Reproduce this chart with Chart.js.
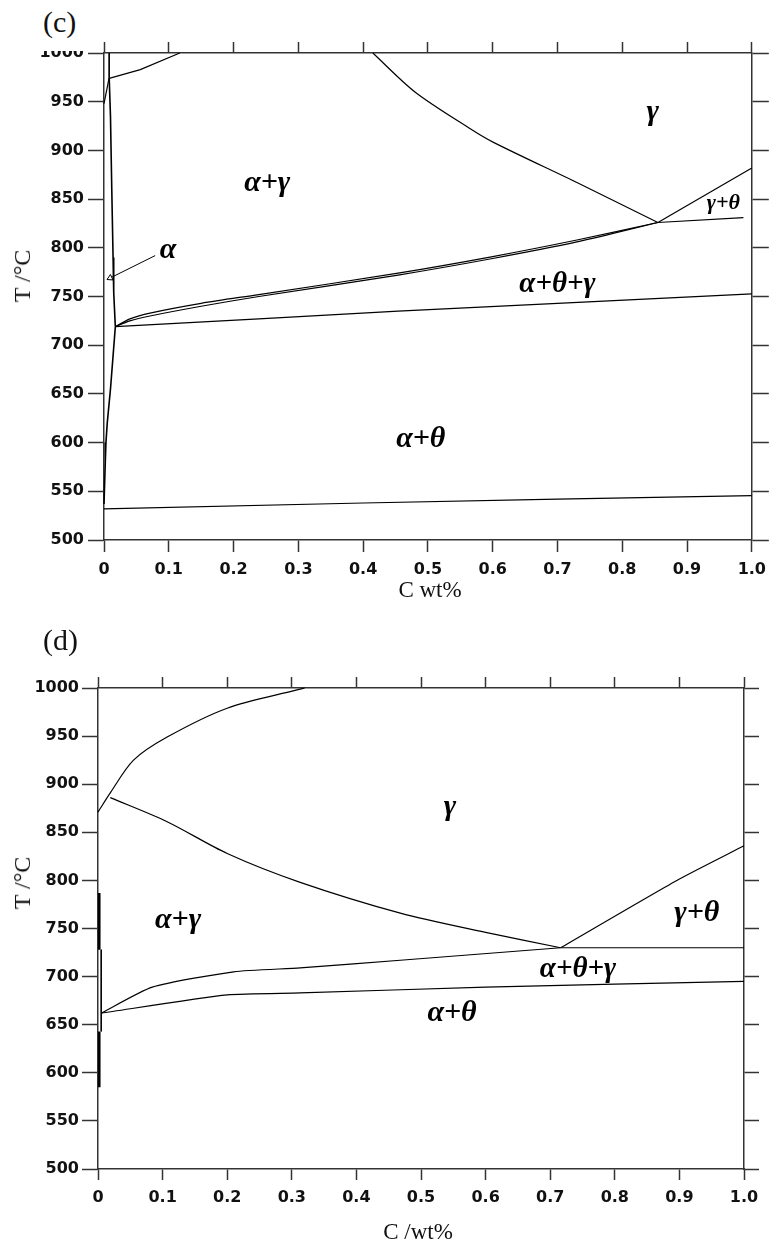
<!DOCTYPE html>
<html>
<head>
<meta charset="utf-8">
<script src="https://cdn.jsdelivr.net/npm/chart.js@4.4.0/dist/chart.umd.min.js"></script>
<style>
  body { margin: 0; background: #fff; }
  #page { position: relative; width: 774px; height: 1249px; overflow: hidden; background: #fff; }
  .box { position: absolute; left: 0; width: 774px; }
  .t { position: absolute; font-family: "Liberation Serif", "Times New Roman", serif; color: #111; white-space: nowrap; line-height: 1; }
  .rot { transform: translate(-50%, -50%) rotate(-90deg); }
  .mid { transform: translate(-50%, -50%); }
</style>
</head>
<body>
<div id="page">
  <div class="box" style="top:0;height:600px"><canvas id="chartC"></canvas></div>
  <div class="box" style="top:620px;height:629px"><canvas id="chartD"></canvas></div>
  <!-- the top of the "1000" label is cut off in the original figure -->
  <div style="position:absolute;left:30px;top:0;width:70px;height:51px;background:#fff"></div>
  <div class="t" style="left:43px;top:7px;font-size:30px">(c)</div>
  <div class="t mid" style="left:430px;top:589px;font-size:23px">C wt%</div>
  <div class="t rot" style="left:22px;top:276px;font-size:24px">T /°C</div>
  <div class="t" style="left:43px;top:625px;font-size:30px">(d)</div>
  <div class="t mid" style="left:418px;top:1231px;font-size:23px">C /wt%</div>
  <div class="t rot" style="left:22px;top:883px;font-size:24px">T /°C</div>
</div>
<script>
// axis ticks
const xTicks = [0, 0.1, 0.2, 0.3, 0.4, 0.5, 0.6, 0.7, 0.8, 0.9, 1.0];
const xTickLabels = ['0', '0.1', '0.2', '0.3', '0.4', '0.5', '0.6', '0.7', '0.8', '0.9', '1.0'];
const yTicks = [500, 550, 600, 650, 700, 750, 800, 850, 900, 950, 1000];
const yTickLabels = ['500', '550', '600', '650', '700', '750', '800', '850', '900', '950', '1000'];

// (c) phase boundaries, C wt% vs T
const cDeltaX = [0, 0.006, 0.008];
const cDeltaT = [948, 968, 975];
const cEdgeX = [0.008, 0.008];
const cEdgeT = [1000, 975];
const cTopX = [0.008, 0.056, 0.117];
const cTopT = [974, 983, 1000];
const cAlphaX = [0.008, 0.010, 0.012, 0.014, 0.015, 0.0175];
const cAlphaT = [975, 935, 860, 790, 754, 719];
const cSolvusX = [0.0175, 0.010, 0.005, 0.003, 0.002, 0];
const cSolvusT = [719, 655, 620, 600, 580, 537];
const cA3X = [0.415, 0.48, 0.566, 0.602, 0.73, 0.855];
const cA3T = [1000, 960, 922, 908, 867, 826];
const cAcmX = [0.855, 1.0];
const cAcmT = [826, 882];
const cEutX = [0.855, 0.987];
const cEutT = [826, 831];
const cUpperX = [0.0175, 0.04, 0.071, 0.15, 0.239, 0.454, 0.6, 0.73, 0.855];
const cUpperT = [719, 727, 733, 743, 752, 774, 791, 808, 826];
const cUpper2T = [719, 725, 730, 740, 750, 772, 789, 806, 826];
const cA1X = [0.0175, 0.239, 0.454, 0.7, 1.0];
const cA1T = [719, 727, 735, 743, 752.6];
const cLowX = [0, 0.4, 0.7, 1.0];
const cLowT = [532, 538, 542, 545.5];
const cArrowX = [0.079, 0.0095];
const cArrowT = [792, 769];
const cLabelText = ['γ', 'α+γ', 'γ+θ', 'α', 'α+θ+γ', 'α+θ'];
const cLabelX = [0.847, 0.252, 0.956, 0.099, 0.700, 0.489];
const cLabelT = [939, 866, 846, 797, 762, 603];

// (d) phase boundaries
const dA3X = [0, 0.019, 0.055, 0.107, 0.2, 0.308, 0.32];
const dA3T = [871, 891, 925, 949, 979, 998, 1000];
const dA3LowX = [0.019, 0.107, 0.2, 0.313, 0.468, 0.6, 0.716];
const dA3LowT = [886, 861, 828, 798, 766, 746, 730];
const dAcmX = [0.716, 0.896, 1.0];
const dAcmT = [730, 800, 836];
const dEutX = [0.716, 1.0];
const dEutT = [730, 730];
const dUpperX = [0.005, 0.084, 0.21, 0.313, 0.468, 0.716];
const dUpperT = [662, 689, 705, 709, 717, 730];
const dA1X = [0.005, 0.2, 0.313, 0.6, 1.0];
const dA1T = [662, 681, 683, 689, 695];
const dFerriteX = [0.002, 0.002];
const dFerriteT = [787, 728];
const dFerrite2X = [0.005, 0.005];
const dFerrite2T = [728, 643];
const dFerrite3T = [643, 585];
const dLabelText = ['γ', 'α+γ', 'γ+θ', 'α+θ+γ', 'α+θ'];
const dLabelX = [0.545, 0.124, 0.927, 0.743, 0.548];
const dLabelT = [876, 759, 766, 707, 662];

Chart.defaults.font.family = '"DejaVu Sans", sans-serif';

function line(xs, ts, extra) {
  return Object.assign({
    data: xs.map((x, i) => ({ x: x, y: ts[i] })),
    showLine: true,
    borderColor: '#000',
    borderWidth: 1.2,
    pointRadius: 0,
    tension: 0,
    clip: false
  }, extra || {});
}

const regionLabels = {
  id: 'regionLabels',
  afterDatasetsDraw(chart, args, opts) {
    const ctx = chart.ctx;
    const x = chart.scales.x, y = chart.scales.y;
    ctx.save();
    ctx.fillStyle = '#000';
    ctx.textAlign = 'center';
    ctx.textBaseline = 'middle';
    opts.text.forEach((t, i) => {
      ctx.font = 'italic bold ' + opts.size[i] + 'px "Liberation Serif"';
      ctx.fillText(t, x.getPixelForValue(opts.x[i]), y.getPixelForValue(opts.t[i]));
    });
    ctx.restore();
  }
};

function scalesFor(sz) {
  const grid = len => ({ drawOnChartArea: false, drawTicks: true, tickLength: len, tickColor: '#333', tickWidth: 1.5 });
  const border = { display: true, color: '#333', width: 1.5 };
  const setX = s => { s.ticks = xTicks.map(v => ({ value: v })); };
  const setY = s => { s.ticks = yTicks.map(v => ({ value: v })); };
  const tickFont = { size: 16, weight: 'bold' };
  return {
    x: {
      type: 'linear', position: 'bottom', min: 0, max: 1,
      grid: grid(sz.bottomTick), border: border, afterBuildTicks: setX,
      ticks: { color: '#111', padding: sz.xPad, font: tickFont, maxRotation: 0, autoSkip: false,
               callback: (v, i) => xTickLabels[i] },
      afterFit: s => { s.height = sz.bottom; }
    },
    y: {
      type: 'linear', position: 'left', min: 500, max: 1000,
      grid: grid(16), border: border, afterBuildTicks: setY,
      ticks: { color: '#111', padding: sz.yPad, font: tickFont, autoSkip: false,
               callback: (v, i) => yTickLabels[i] },
      afterFit: s => { s.width = sz.left; }
    },
    x2: {
      type: 'linear', position: 'top', min: 0, max: 1,
      grid: grid(11), border: border, afterBuildTicks: setX,
      ticks: { display: false },
      afterFit: s => { s.height = 11; }
    },
    y2: {
      type: 'linear', position: 'right', min: 500, max: 1000,
      grid: grid(sz.rightTick), border: border, afterBuildTicks: setY,
      ticks: { display: false },
      afterFit: s => { s.width = sz.right; }
    }
  };
}

function makeChart(id, datasets, labels, sz) {
  return new Chart(document.getElementById(id), {
    type: 'scatter',
    data: { datasets: datasets },
    options: {
      responsive: true,
      maintainAspectRatio: false,
      animation: false,
      layout: { padding: { top: sz.top, left: 0, right: 0, bottom: 0 } },
      plugins: { legend: { display: false }, tooltip: { enabled: false }, regionLabels: labels },
      scales: scalesFor(sz)
    },
    plugins: [regionLabels]
  });
}

makeChart('chartC', [
  line(cDeltaX, cDeltaT),
  line(cEdgeX, cEdgeT, { borderWidth: 1 }),
  line(cTopX, cTopT),
  line(cAlphaX, cAlphaT, { borderWidth: 1.6 }),
  line(cSolvusX, cSolvusT, { borderWidth: 1.6 }),
  line(cA3X, cA3T, { tension: 0.3 }),
  line(cAcmX, cAcmT),
  line(cEutX, cEutT),
  line(cUpperX, cUpperT, { tension: 0.3 }),
  line(cUpperX, cUpper2T, { tension: 0.3 }),
  line(cA1X, cA1T),
  line(cLowX, cLowT),
  line(cArrowX, cArrowT, { borderWidth: 1, pointRadius: [0, 3.5], pointStyle: 'triangle', rotation: 244,
                           pointBackgroundColor: '#fff', pointBorderColor: '#000', pointBorderWidth: 1 })
], { text: cLabelText, x: cLabelX, t: cLabelT, size: [30, 30, 22, 30, 29, 30] },
   { top: 42, left: 104, right: 18, bottom: 60, bottomTick: 12, rightTick: 17, xPad: 8, yPad: 4 });

makeChart('chartD', [
  line(dA3X, dA3T, { tension: 0.3 }),
  line(dA3LowX, dA3LowT, { tension: 0.3 }),
  line(dAcmX, dAcmT, { tension: 0.2 }),
  line(dEutX, dEutT),
  line(dUpperX, dUpperT, { tension: 0.2 }),
  line(dA1X, dA1T, { tension: 0.2 }),
  line(dFerriteX, dFerriteT, { borderWidth: 2.5 }),
  line(dFerrite2X, dFerrite2T, { borderWidth: 1 }),
  line(dFerriteX, dFerrite3T, { borderWidth: 2.5 })
], { text: dLabelText, x: dLabelX, t: dLabelT, size: [30, 30, 30, 29, 30] },
   { top: 57, left: 98, right: 30, bottom: 80, bottomTick: 11, rightTick: 15, xPad: 8, yPad: 3 });
</script>
</body>
</html>
